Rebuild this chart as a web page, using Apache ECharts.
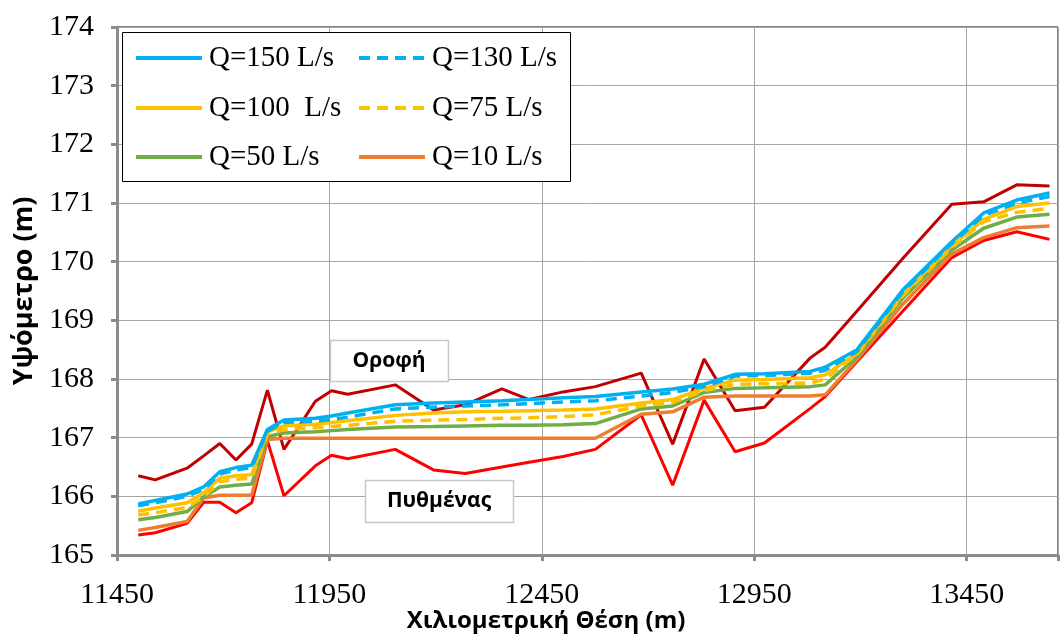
<!DOCTYPE html>
<html>
<head>
<meta charset="utf-8">
<script src="https://cdn.jsdelivr.net/npm/echarts@6/dist/echarts.min.js"></script>
<style>
  html, body { margin: 0; padding: 0; background: #fff; }
  #chart { width: 1061px; height: 634px; }
</style>
</head>
<body>
<div id="chart"></div>
<script>
// Chainage of each cross-section (m)
const stations = [11500, 11540, 11615, 11654, 11692, 11730, 11767, 11804, 11843, 11917, 11955, 11993,
  12105, 12195, 12270, 12356, 12420, 12500, 12576, 12684, 12758, 12832, 12905, 12974,
  13082, 13117, 13192, 13300, 13415, 13490, 13568, 13645];

// Culvert roof and bed elevations (m)
const roof = [166.35, 166.28, 166.48, 166.69, 166.90, 166.62, 166.89, 167.81, 166.80, 167.62, 167.80, 167.74,
  167.90, 167.47, 167.56, 167.83, 167.65, 167.78, 167.87, 168.10, 166.89, 168.34, 167.46, 167.52,
  168.36, 168.54, 169.16, 170.06, 170.98, 171.02, 171.31, 171.29];
const bed = [165.34, 165.38, 165.54, 165.90, 165.90, 165.72, 165.89, 166.95, 166.01, 166.52, 166.70, 166.64,
  166.80, 166.45, 166.39, 166.50, 166.58, 166.68, 166.80, 167.39, 166.19, 167.64, 166.76, 166.91,
  167.50, 167.70, 168.30, 169.16, 170.07, 170.36, 170.51, 170.38];

// Water surface elevations for each discharge (m)
const q150 = [165.87, 165.93, 166.04, 166.16, 166.42, 166.49, 166.53, 167.14, 167.30, 167.33, 167.37, 167.42,
  167.56, 167.59, 167.61, 167.63, 167.65, 167.68, 167.70, 167.78, 167.83, 167.91, 168.08, 168.09,
  168.13, 168.20, 168.50, 169.52, 170.34, 170.83, 171.05, 171.17];
const q130 = [165.84, 165.89, 166.00, 166.12, 166.38, 166.45, 166.49, 167.11, 167.26, 167.28, 167.31, 167.35,
  167.49, 167.52, 167.54, 167.56, 167.58, 167.61, 167.63, 167.71, 167.77, 167.87, 168.05, 168.06,
  168.10, 168.15, 168.47, 169.49, 170.31, 170.79, 171.00, 171.11];
const q100 = [165.75, 165.80, 165.89, 166.06, 166.31, 166.35, 166.37, 167.10, 167.20, 167.23, 167.26, 167.29,
  167.38, 167.42, 167.44, 167.45, 167.46, 167.47, 167.49, 167.59, 167.65, 167.84, 167.98, 167.99,
  168.02, 168.07, 168.44, 169.45, 170.27, 170.72, 170.94, 171.00];
const q75 = [165.68, 165.72, 165.81, 165.99, 166.25, 166.29, 166.31, 167.06, 167.14, 167.17, 167.19, 167.21,
  167.28, 167.30, 167.31, 167.33, 167.34, 167.36, 167.39, 167.54, 167.60, 167.80, 167.91, 167.92,
  167.93, 168.00, 168.42, 169.42, 170.24, 170.68, 170.84, 170.91];
const q50 = [165.60, 165.64, 165.74, 165.99, 166.16, 166.19, 166.21, 167.02, 167.08, 167.10, 167.12, 167.14,
  167.18, 167.19, 167.20, 167.21, 167.21, 167.22, 167.24, 167.49, 167.54, 167.77, 167.84, 167.85,
  167.87, 167.90, 168.38, 169.38, 170.20, 170.57, 170.76, 170.81];
const q10 = [165.42, 165.47, 165.57, 165.97, 166.02, 166.02, 166.02, 166.97, 166.99, 166.99, 166.99, 166.99,
  166.99, 166.99, 166.99, 166.99, 166.99, 166.99, 166.99, 167.40, 167.44, 167.69, 167.71, 167.71,
  167.71, 167.73, 168.33, 169.28, 170.13, 170.41, 170.58, 170.61];

const legendNames = ['Q=150 L/s', 'Q=130 L/s', 'Q=100  L/s', 'Q=75 L/s', 'Q=50 L/s', 'Q=10 L/s'];
const xTitle = 'Χιλιομετρική Θέση (m)';
const yTitle = 'Υψόμετρο (m)';
const roofLabel = 'Οροφή';
const bedLabel = 'Πυθμένας';

const pts = vals => stations.map((x, i) => [x, vals[i]]);

const serif = 'Liberation Serif';
const sans = 'Open Sans';

function lineSeries(name, vals, color, dashed, width) {
  return {
    name: name, type: 'line', data: pts(vals), symbol: 'none', smooth: false,
    lineStyle: { color: color, width: width || 3.5, type: dashed ? [11, 7] : 'solid', cap: 'butt' },
    itemStyle: { color: color },
    emphasis: { disabled: true }, animation: false
  };
}

// One legend per entry so the two columns line up
const legendPos = [
  [134, 58], [357, 58],
  [134, 108], [357, 108],
  [134, 157], [357, 157]
];
const legends = legendNames.map((n, i) => ({
  data: [n], left: legendPos[i][0], top: legendPos[i][1] - 16, padding: 0, z: 10,
  itemWidth: 66, itemHeight: 14, itemGap: 0, selectedMode: false,
  itemStyle: { opacity: 0 },
  lineStyle: { width: 4 },
  textStyle: { fontFamily: serif, fontSize: 29, color: '#000', lineHeight: 32, padding: [0, 0, 0, 2] }
}));

const chart = echarts.init(document.getElementById('chart'), null, { renderer: 'canvas' });
chart.setOption({
  animation: false,
  backgroundColor: '#fff',
  grid: {
    left: 117, top: 27, right: 3, bottom: 79, show: true, borderColor: '#000', borderWidth: 1,
    containLabel: false, outerBoundsMode: 'none'
  },
  legend: legends,
  xAxis: {
    type: 'value', min: 11450, max: 13665, interval: 500,
    axisLine: { lineStyle: { color: '#8c8c8c', width: 3 } },
    axisTick: { show: true, length: 6, lineStyle: { color: '#8c8c8c', width: 3 } },
    axisLabel: {
      fontFamily: serif, fontSize: 30, color: '#000', margin: 25,
      formatter: v => ((v - 11450) % 500 === 0 ? String(v) : '')
    },
    splitLine: { show: true, lineStyle: { color: '#a6a6a6', width: 1 } }
  },
  yAxis: {
    type: 'value', min: 165, max: 174, interval: 1,
    name: yTitle, nameLocation: 'middle', nameGap: 74, nameRotate: 90,
    nameTextStyle: { fontFamily: sans, fontWeight: 'bold', fontSize: 27, color: '#000' },
    axisLine: { show: true, lineStyle: { color: '#8c8c8c', width: 3 } },
    axisTick: { show: true, length: 6, lineStyle: { color: '#8c8c8c', width: 3 } },
    axisLabel: { fontFamily: serif, fontSize: 30, color: '#000', margin: 23 },
    splitLine: { show: true, lineStyle: { color: '#a6a6a6', width: 1 } }
  },
  graphic: [
    { type: 'text', z: 6, x: 546, y: 621,
      style: { text: xTitle, fontFamily: sans, fontWeight: 'bold', fontSize: 24, fill: '#000',
        align: 'center', verticalAlign: 'middle' } },
    { type: 'rect', z: 3, shape: { x: 122.5, y: 32.5, width: 448, height: 149 },
      style: { fill: '#fff', stroke: '#000', lineWidth: 1 } },
    { type: 'rect', z: 5, shape: { x: 330.5, y: 340.5, width: 118, height: 41 },
      style: { fill: '#fff', stroke: '#c8c8c8', lineWidth: 1.5 } },
    { type: 'text', z: 6, x: 389, y: 361,
      style: { text: roofLabel, fontFamily: sans, fontWeight: 'bold', fontSize: 21, fill: '#000',
        align: 'center', verticalAlign: 'middle' } },
    { type: 'rect', z: 5, shape: { x: 365.5, y: 480.5, width: 148, height: 42 },
      style: { fill: '#fff', stroke: '#c8c8c8', lineWidth: 1.5 } },
    { type: 'text', z: 6, x: 439, y: 501,
      style: { text: bedLabel, fontFamily: sans, fontWeight: 'bold', fontSize: 21, fill: '#000',
        align: 'center', verticalAlign: 'middle' } }
  ],
  series: [
    lineSeries(roofLabel, roof, '#C00000', false, 3),
    lineSeries(bedLabel, bed, '#FF0000', false, 3),
    lineSeries(legendNames[5], q10, '#ED7D31', false),
    lineSeries(legendNames[4], q50, '#70AD47', false),
    lineSeries(legendNames[2], q100, '#FFC000', false),
    lineSeries(legendNames[3], q75, '#FFC000', true),
    lineSeries(legendNames[0], q150, '#00B0F0', false),
    lineSeries(legendNames[1], q130, '#00B0F0', true)
  ]
});
</script>
</body>
</html>
